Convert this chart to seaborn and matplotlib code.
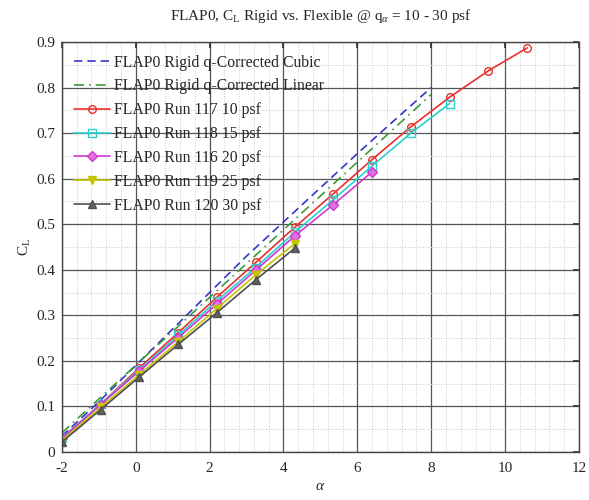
"""FLAP0 CL rigid vs. flexible comparison plot."""

import matplotlib
matplotlib.use("Agg")
import matplotlib.pyplot as plt
from matplotlib.ticker import MultipleLocator
import pandas as pd
import seaborn as sns

sns.set_theme(style="white")
plt.rcParams["font.family"] = ["Liberation Serif", "DejaVu Serif"]
plt.rcParams["mathtext.fontset"] = "custom"
plt.rcParams["mathtext.rm"] = "Liberation Serif"
plt.rcParams["mathtext.it"] = "Liberation Serif:italic"
plt.rcParams["axes.unicode_minus"] = False

# ---- data ----
alpha_cubic = [-2, -1, 0, 1, 2, 3, 4, 5, 6, 7, 8]
cl_cubic = [0.035, 0.110, 0.190, 0.270, 0.350, 0.430, 0.505, 0.580, 0.655, 0.728, 0.800]

alpha_linear = [-2, 8]
cl_linear = [0.042, 0.785]

alpha_runs = [-2.0, -0.95, 0.1, 1.15, 2.2, 3.25, 4.3, 5.35, 6.4, 7.45, 8.5, 9.55, 10.6]
cl_run117 = [0.030, 0.105, 0.185, 0.262, 0.340, 0.416, 0.493, 0.567, 0.642, 0.714, 0.779, 0.837, 0.887]
cl_run118 = [0.030, 0.105, 0.181, 0.256, 0.332, 0.405, 0.482, 0.554, 0.628, 0.700, 0.765]
cl_run116 = [0.030, 0.104, 0.178, 0.251, 0.325, 0.399, 0.474, 0.543, 0.615]
cl_run119 = [0.025, 0.098, 0.170, 0.242, 0.315, 0.389, 0.457]
cl_run120 = [0.022, 0.093, 0.165, 0.236, 0.306, 0.378, 0.447]

runs = [
    ("FLAP0 Run 117 10 psf", cl_run117, "#e8302c", "o", "none"),
    ("FLAP0 Run 118 15 psf", cl_run118, "#2ccfcf", "s", "none"),
    ("FLAP0 Run 116 20 psf", cl_run116, "#d03ad0", "D", "#e070e0"),
    ("FLAP0 Run 119 25 psf", cl_run119, "#c4c400", "v", "#c4c400"),
    ("FLAP0 Run 120 30 psf", cl_run120, "#505050", "^", "#606060"),
]

fig = plt.figure(figsize=(5.89, 5.00), dpi=100)
ax = fig.add_axes([0.105, 0.096, 0.878, 0.82])

sns.lineplot(x=alpha_cubic, y=cl_cubic, ax=ax, color="#3535c8", linestyle=(0, (5, 3)),
             linewidth=1.2, label="FLAP0 Rigid q-Corrected Cubic")
sns.lineplot(x=alpha_linear, y=cl_linear, ax=ax, color="#3c9a3c", linestyle=(0, (6, 3, 1, 3)),
             linewidth=1.2, label="FLAP0 Rigid q-Corrected Linear")

for label, cl, color, marker, face in runs:
    df = pd.DataFrame({"alpha": alpha_runs[:len(cl)], "cl": cl})
    sns.lineplot(data=df, x="alpha", y="cl", ax=ax, color=color, marker=marker,
                 markerfacecolor=face, markeredgecolor=color, markersize=5.5,
                 markeredgewidth=1.0, linewidth=1.2, label=label)

ax.set_xlim(-2, 12)
ax.set_ylim(0, 0.9)
ax.xaxis.set_major_locator(MultipleLocator(2))
ax.xaxis.set_minor_locator(MultipleLocator(0.4))
ax.yaxis.set_minor_locator(MultipleLocator(0.05))
ax.set_yticks([0, 0.1, 0.2, 0.3, 0.4, 0.5, 0.6, 0.7, 0.8, 0.9])
ax.set_yticklabels(["0", "0.1", "0.2", "0.3", "0.4", "0.5", "0.6", "0.7", "0.8", "0.9"])

ax.grid(which="major", color="#555555", linewidth=0.9, linestyle="-")
ax.grid(which="minor", color="#c8c8c8", linewidth=0.7, linestyle=":")
ax.set_axisbelow(True)
ax.tick_params(which="both", direction="in", top=True, right=True, labelsize=11,
               color="#333333", length=4)
ax.tick_params(axis="x", pad=7)
ax.tick_params(axis="y", pad=5)
ax.tick_params(which="minor", length=0)
for s in ax.spines.values():
    s.set_color("#444444")
    s.set_linewidth(1.0)

ax.set_xlabel(r"$\alpha$", fontsize=11, labelpad=4)
ax.set_ylabel(r"C$_\mathrm{L}$", fontsize=11, labelpad=2)
ax.set_title(r"FLAP0, C$_\mathrm{L}$ Rigid vs. Flexible @ q$_\alpha$ = 10 - 30 psf",
             fontsize=11, pad=16)

ax.legend(loc="upper left", frameon=False, fontsize=11.3, handlelength=2.3,
          handletextpad=0.25, labelspacing=0.5, borderaxespad=0.4)

fig.savefig("out.png", dpi=100)
